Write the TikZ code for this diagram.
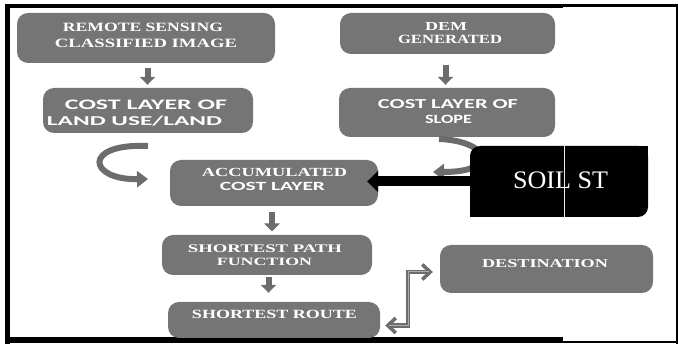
\documentclass[tikz,border=0pt]{standalone}
\usepackage{fontspec}
\setmainfont{Liberation Serif}
\newfontfamily\carlfont{Carlito}
\usetikzlibrary{arrows.meta}
\definecolor{boxgray}{RGB}{117,117,117}
\definecolor{arrgray}{RGB}{108,108,108}
\newcommand{\fitl}[3]{\resizebox{#1pt}{#2pt}{#3}}
\begin{document}
\begin{tikzpicture}[x=1pt,y=-1pt,
  gbox/.style={fill=boxgray, rounded corners=11pt, inner sep=0pt},
  lbl/.style={inner sep=0pt, anchor=base, text=white},
  dnarrow/.style={arrgray, line width=6pt, -{Triangle[width=15pt,length=8pt]}},
  carrow/.style={arrgray, line width=6pt, -{Triangle[width=16pt,length=11pt]}},
  blackarrow/.style={black, line width=10pt, -{Triangle[width=21pt,length=11pt]}},
  elbowout/.style={arrgray, line width=4.5pt, {Straight Barb[length=8pt,width=15pt,line width=3.5pt]}-{Straight Barb[length=8pt,width=15pt,line width=3.5pt]}},
  elbowin/.style={white!45!arrgray, line width=1pt, shorten <=4pt, shorten >=4pt},
  framel/.style={black}]
\useasboundingbox (0,0) rectangle (678,347);

% frame
\draw[framel, line width=5pt] (7.5,4) -- (7.5,344);
\draw[framel, line width=4.5pt] (5,6) -- (563,6);
\draw[framel, line width=2.5pt] (563,5.5) -- (678,5.5);
\draw[framel, line width=2pt] (676.5,4) -- (676.5,344);
\draw[framel, line width=6pt] (5,340.5) -- (563,340.5);
\draw[framel, line width=2.5pt] (563,342) -- (678,342);

% boxes
\node[gbox, minimum width=258pt, minimum height=50pt] (b1) at (146,38) {};
\node[gbox, minimum width=215pt, minimum height=41pt] (b2) at (447.5,33.5) {};
\node[gbox, minimum width=210pt, minimum height=45pt] (b3) at (148,110.5) {};
\node[gbox, minimum width=216pt, minimum height=49pt] (b4) at (447,112.5) {};
\node[gbox, minimum width=208pt, minimum height=46pt] (b5) at (274,183) {};
\node[gbox, minimum width=210pt, minimum height=40pt] (b6) at (267,255) {};
\node[gbox, minimum width=212pt, minimum height=36pt] (b7) at (274,320) {};
\node[gbox, minimum width=213pt, minimum height=48pt] (b8) at (546.5,269) {};

% labels
\node[lbl] (t1a) at (143,31.7) {\fitl{160}{8.4}{\bfseries REMOTE SENSING}};
\node[lbl] (t1b) at (146,47.7) {\fitl{182}{8.4}{\bfseries CLASSIFIED IMAGE}};
\node[lbl] (t2a) at (446,30.7) {\fitl{42}{8}{\bfseries DEM}};
\node[lbl] (t2b) at (450,43.3) {\fitl{104}{8.3}{\bfseries GENERATED}};
\node[lbl] (t3a) at (146,109.3) {\fitl{162}{9.5}{\carlfont\bfseries COST LAYER OF}};
\node[lbl] (t3b) at (134.5,126) {\fitl{175}{9.5}{\carlfont\bfseries LAND USE/LAND}};
\node[lbl] (t4a) at (448,108.3) {\fitl{140}{9}{\carlfont\bfseries COST LAYER OF}};
\node[lbl] (t4b) at (448.5,123.3) {\fitl{47}{8.3}{\carlfont\bfseries SLOPE}};
\node[lbl] (t5a) at (274.5,177) {\fitl{145}{8.2}{\bfseries ACCUMULATED}};
\node[lbl] (t5b) at (272.5,190.7) {\fitl{105}{8.2}{\carlfont\bfseries COST LAYER}};
\node[lbl] (t6a) at (265,252.7) {\fitl{154}{7.7}{\bfseries SHORTEST PATH}};
\node[lbl] (t6b) at (264.5,265.7) {\fitl{95}{7.4}{\bfseries FUNCTION}};
\node[lbl] (t7) at (274.5,318.3) {\fitl{165}{8.3}{\bfseries SHORTEST ROUTE}};
\node[lbl] (t8) at (545,267.3) {\fitl{126}{8}{\bfseries DESTINATION}};

% straight down arrows
\coordinate (ax1) at (147.5,0);
\coordinate (ax2) at (445.5,0);
\coordinate (ax3) at (272,0);
\coordinate (ax4) at (268.5,0);
\draw[dnarrow, shorten <=5pt, shorten >=3pt] (b1.south -| ax1) -- (b3.north -| ax1);
\draw[dnarrow, shorten <=11pt, shorten >=3pt] (b2.south -| ax2) -- (b4.north -| ax2);
\draw[dnarrow, shorten <=5.5pt, shorten >=3.3pt] (b5.south -| ax3) -- (b6.north -| ax3);
\draw[dnarrow, shorten <=2pt, shorten >=9pt] (b6.south -| ax4) -- (b7.north -| ax4);

% curved arrows
\coordinate (c1s) at (148,146);
\coordinate (c1e) at (148,179);
\draw[carrow] (c1s) .. controls (82,143) and (88,180) .. (c1e);
\coordinate (c2s) at (439,139);
\coordinate (c2e) at (433,172);
\draw[carrow] (c2s) .. controls (490,141) and (500,172) .. (c2e);

% soil box
\node[fill=black, rounded corners=10pt, minimum width=178pt, minimum height=71pt, inner sep=0pt] (soil) at (559,181.5) {};
\fill[black] (soil.north east) rectangle ++(-12,12);
\fill[black] (soil.south west) rectangle ++(12,-12);
\coordinate (sl) at (564,0);
\draw[white!85!gray, line width=0.6pt] (soil.north -| sl) -- (soil.south -| sl);
\node[lbl] (tsoil) at (560.5,188.3) {\fitl{95}{16.7}{SOIL ST}};

% black arrow
\draw[blackarrow] (soil.west) -- ([xshift=-11pt]b5.east |- soil.west);

% elbow arrow
\coordinate (e1) at (408,325.5);
\coordinate (e2) at (408,272);
\draw[elbowout] ([shift={(5pt,-5.5pt)}]b7.east) -- (e1) -- (e2) -- ([shift={(-7pt,-3pt)}]b8.west);
\draw[elbowin] ([shift={(5pt,-5.5pt)}]b7.east) -- (e1) -- (e2) -- ([shift={(-7pt,-3pt)}]b8.west);
\end{tikzpicture}
\end{document}
